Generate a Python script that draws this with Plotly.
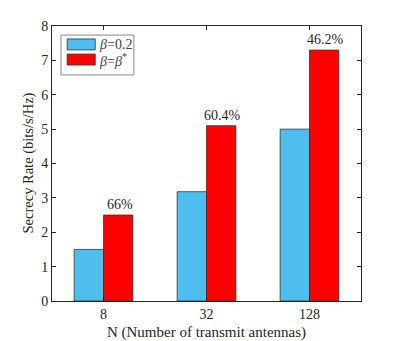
import plotly.graph_objects as go

antennas = ["8", "32", "128"]
rate_fixed = [1.5, 3.18, 5.0]
rate_opt = [2.5, 5.1, 7.3]
gain_labels = ["66%", "60.4%", "46.2%"]

serif = "Liberation Serif"
blue = "#4DBEEE"
red = "#FF0000"
ink = "#262626"

fig = go.Figure()
fig.add_trace(go.Bar(x=antennas, y=rate_fixed, name="<i>β</i>=0.2",
                     marker=dict(color=blue, line=dict(color="#333333", width=0.8))))
fig.add_trace(go.Bar(x=antennas, y=rate_opt, name="<i>β</i>=<i>β</i><sup>*</sup>",
                     marker=dict(color=red, line=dict(color="#333333", width=0.8))))

# percentage gain above each red bar (category index as x)
for i, (val, lab) in enumerate(zip(rate_opt, gain_labels)):
    fig.add_annotation(x=i, y=val, text=lab, showarrow=False, xshift=16,
                       yanchor="bottom", yshift=1,
                       font=dict(family=serif, size=14, color=ink))

# legend drawn by hand so the swatches look like wide patches
fig.add_shape(type="rect", xref="paper", yref="paper",
              x0=0.029, x1=0.265, y0=0.822, y1=0.967,
              line=dict(color="#888888", width=1), fillcolor="white")
for yc, col, lab in [(0.933, blue, "<i>β</i>=0.2"),
                     (0.878, red, "<i>β</i>=<i>β</i><sup>*</sup>")]:
    fig.add_shape(type="rect", xref="paper", yref="paper",
                  x0=0.049, x1=0.14, y0=yc - 0.02, y1=yc + 0.02,
                  line=dict(color="#333333", width=0.8), fillcolor=col)
    fig.add_annotation(xref="paper", yref="paper", x=0.145, y=yc,
                       text=lab, showarrow=False, xanchor="left", yanchor="middle",
                       font=dict(family=serif, size=14, color="#444444"))

# y title as an annotation so it can sit closer to the tick labels
fig.add_annotation(xref="paper", yref="paper", x=0, y=0.5, xshift=-24,
                   text="Secrecy Rate (bits/s/Hz)", textangle=-90, showarrow=False,
                   xanchor="center", yanchor="middle",
                   font=dict(family=serif, size=14.5, color=ink))

axis_style = dict(showline=True, linecolor=ink, linewidth=1, mirror="ticks",
                  ticks="inside", ticklen=4, tickcolor=ink, showgrid=False,
                  zeroline=False, automargin=False,
                  tickfont=dict(family=serif, size=14, color=ink))

fig.update_xaxes(title=dict(text="N (Number of transmit antennas)",
                            font=dict(family=serif, size=15, color=ink)),
                 type="category", range=[-0.5, 2.5], **axis_style)
fig.update_yaxes(range=[0, 8], dtick=1, **axis_style)

fig.update_layout(width=399, height=341, margin=dict(l=52, r=38, t=26, b=40),
                  barmode="group", bargap=0.43, bargroupgap=0,
                  showlegend=False, plot_bgcolor="white", paper_bgcolor="white",
                  font=dict(family=serif))

# drop the default page margin so the figure sits at the window's corner
fig.write_html("out.html", config={"displayModeBar": False},
               post_script="document.body.style.margin='0';")
